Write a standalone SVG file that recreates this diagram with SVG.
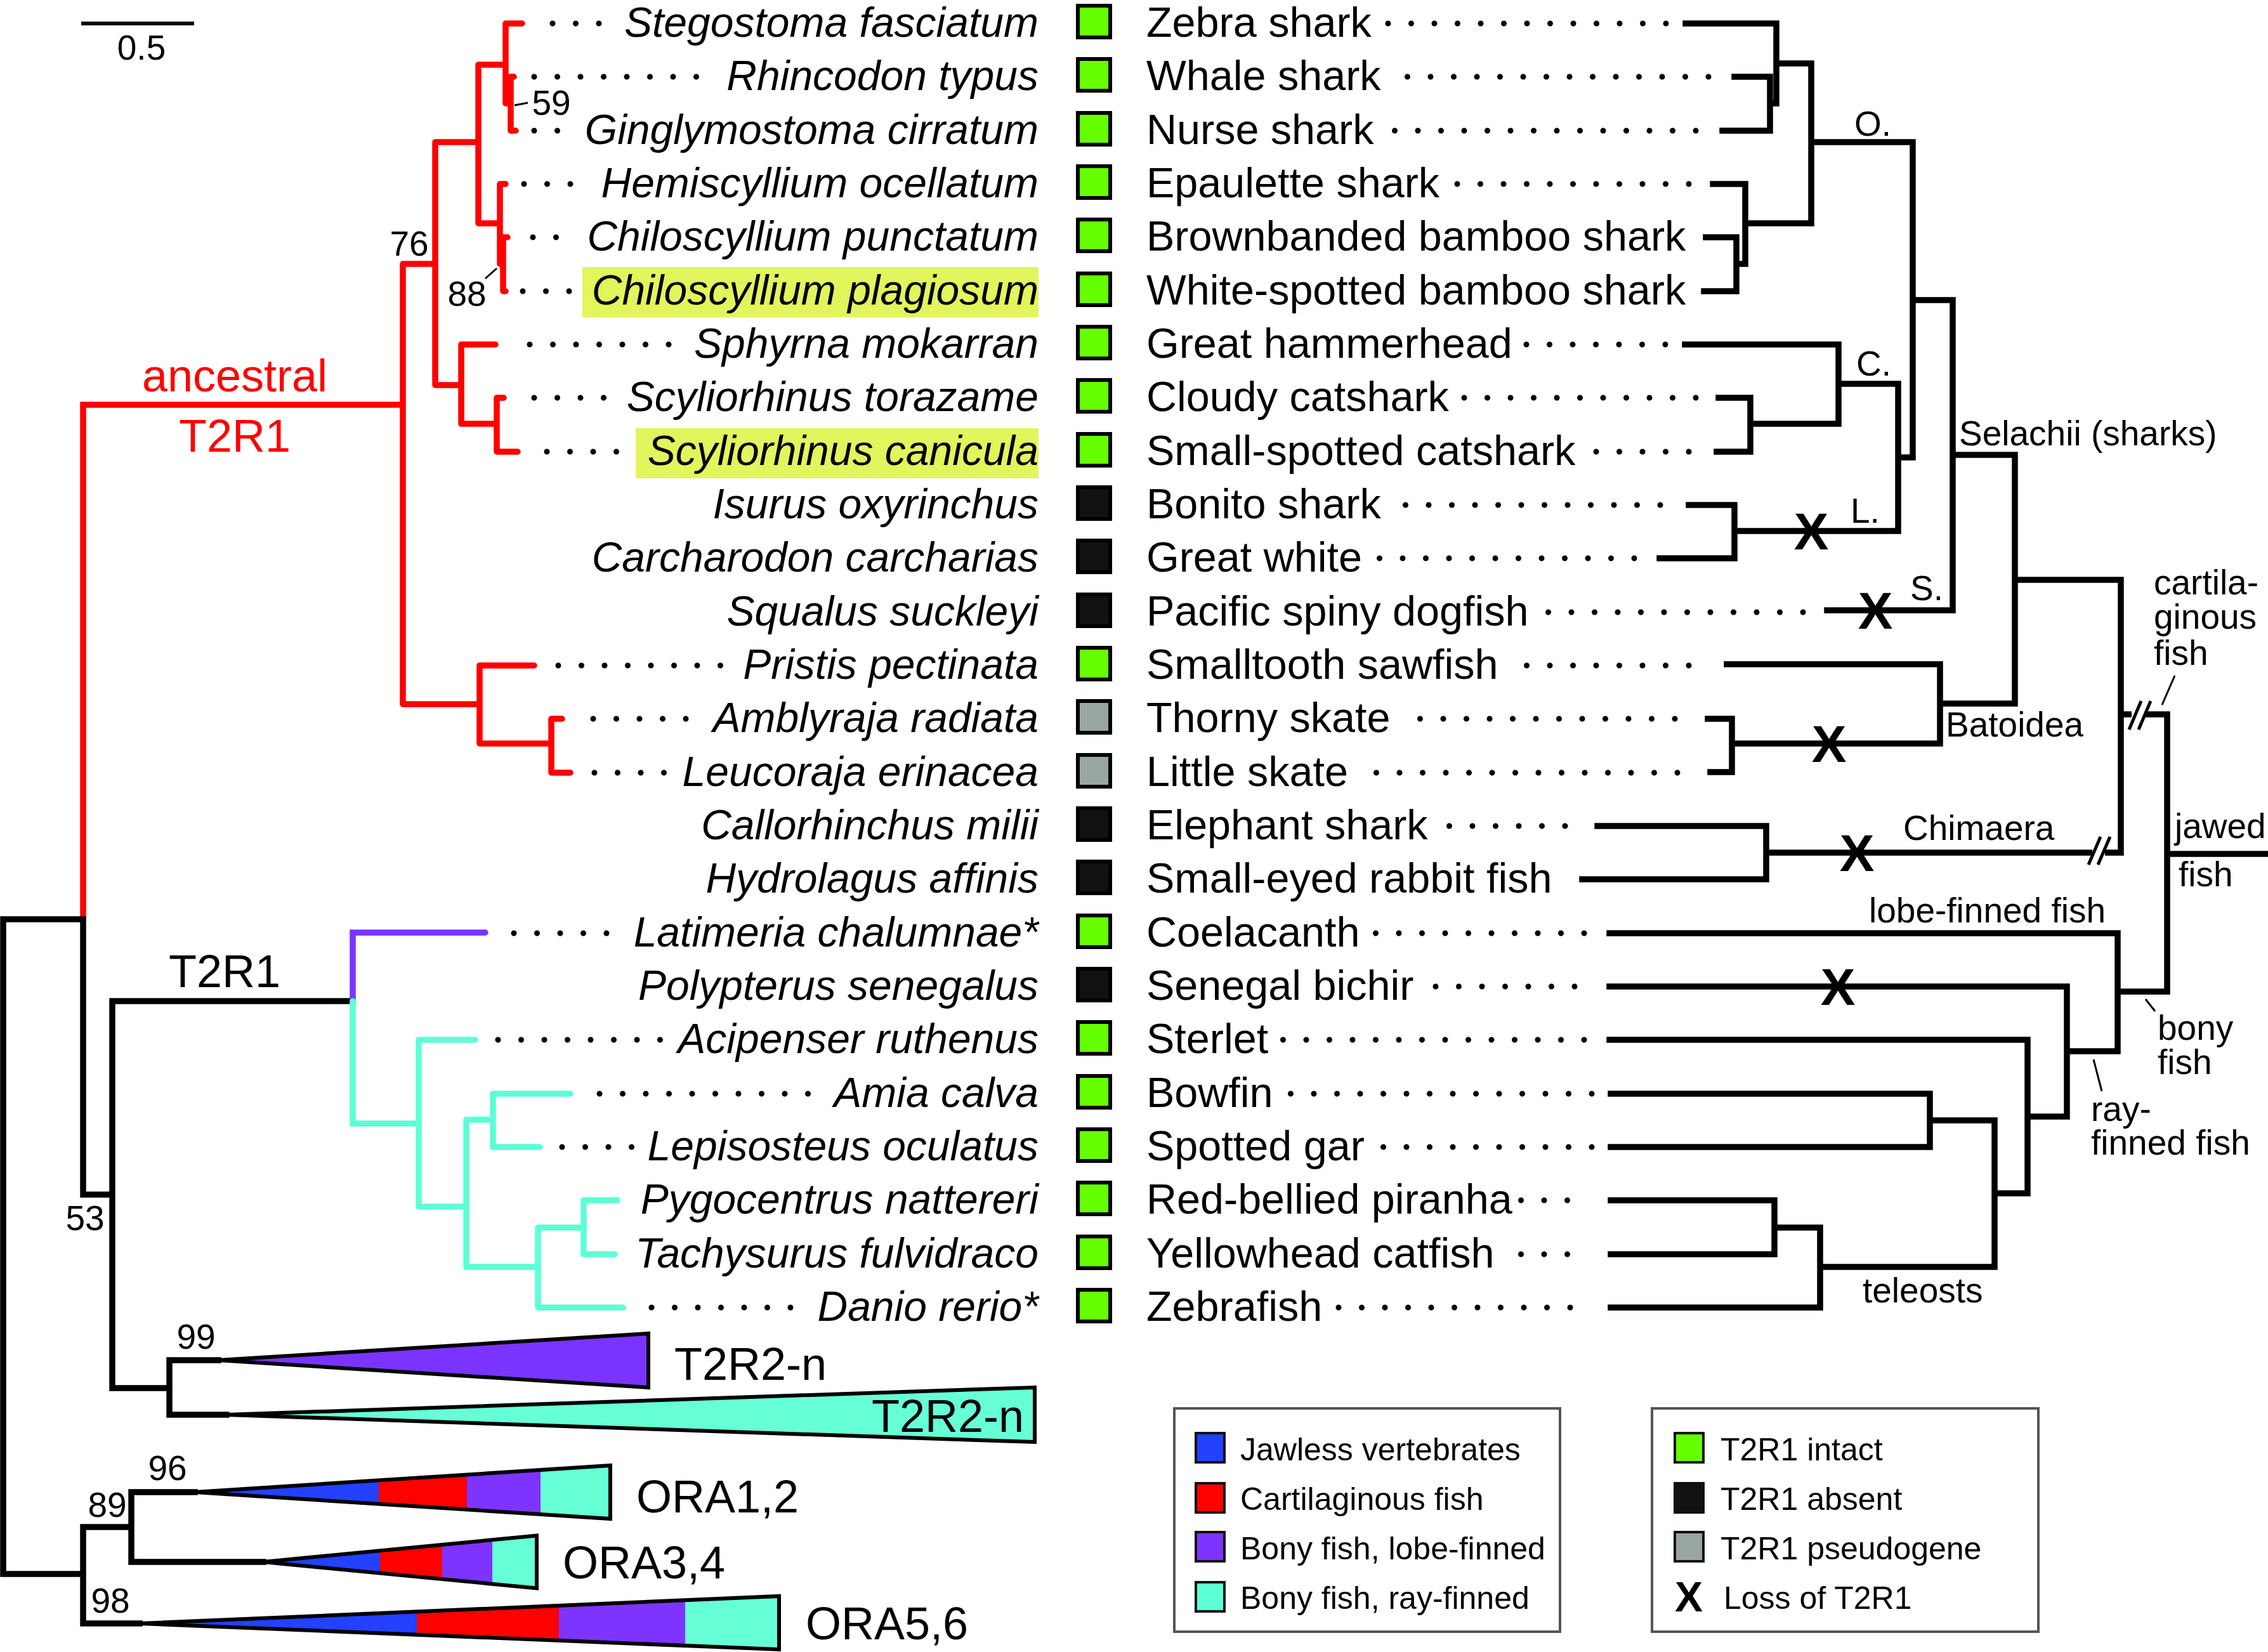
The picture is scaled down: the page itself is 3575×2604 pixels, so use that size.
<svg xmlns="http://www.w3.org/2000/svg" width="3575" height="2604" viewBox="0 0 3575 2604">
<style>
text{font-family:"Liberation Sans",Arial,sans-serif;fill:#000}
.sp{font-size:66px;font-style:italic;text-anchor:end}
.cn{font-size:66.5px}
.lb{font-size:55px}
.bs{font-size:55px;text-anchor:middle}
.big{font-size:72px}
.lg{font-size:50px}
.xm{font-size:82px;font-weight:bold;text-anchor:middle}
.red{fill:#ff0000}
.t{fill:none;stroke-width:9.5}
.tr{stroke:#ff0000;stroke-linecap:round}
.tp{stroke:#7b33ff;stroke-linecap:round}
.tc{stroke:#5cffd6;stroke-linecap:round}
.tk{stroke:#000;stroke-linecap:square}
.dot{fill:none;stroke:#000;stroke-width:9;stroke-linecap:round;stroke-dasharray:0 36.5}
.thin{fill:none;stroke:#000;stroke-width:3}
.box{stroke:#000;stroke-width:6}
.g{fill:#66ff00}
.k{fill:#111}
.p{fill:#99a6a3}
.hl{fill:#e2f55c}
.tri{fill:none;stroke:#000;stroke-width:6;stroke-linejoin:miter}
.lgbox{fill:#fff;stroke:#555;stroke-width:4}
.sw{stroke:#111;stroke-width:4}
</style>

<!-- scale bar -->
<g id="scale">
<path d="M128,37 H306" stroke="#000" stroke-width="6"/>
<text x="223" y="94" class="bs">0.5</text>
</g>

<!-- highlights -->
<rect class="hl" x="918" y="421" width="719" height="79"/>
<rect class="hl" x="1002" y="675" width="635" height="79"/>

<!-- taxa rows -->
<g id="taxon-1"><text class="sp" x="1637" y="58">Stegostoma fasciatum</text><rect class="box g" x="1699" y="9" width="51" height="50"/><text class="cn" x="1807" y="58">Zebra shark</text></g>
<g id="taxon-2"><text class="sp" x="1637" y="142">Rhincodon typus</text><rect class="box g" x="1699" y="93" width="51" height="50"/><text class="cn" x="1807" y="142">Whale shark</text></g>
<g id="taxon-3"><text class="sp" x="1637" y="227">Ginglymostoma cirratum</text><rect class="box g" x="1699" y="178" width="51" height="50"/><text class="cn" x="1807" y="227">Nurse shark</text></g>
<g id="taxon-4"><text class="sp" x="1637" y="311">Hemiscyllium ocellatum</text><rect class="box g" x="1699" y="262" width="51" height="50"/><text class="cn" x="1807" y="311">Epaulette shark</text></g>
<g id="taxon-5"><text class="sp" x="1637" y="395">Chiloscyllium punctatum</text><rect class="box g" x="1699" y="346" width="51" height="50"/><text class="cn" x="1807" y="395">Brownbanded bamboo shark</text></g>
<g id="taxon-6"><text class="sp" x="1637" y="480">Chiloscyllium plagiosum</text><rect class="box g" x="1699" y="431" width="51" height="50"/><text class="cn" x="1807" y="480">White-spotted bamboo shark</text></g>
<g id="taxon-7"><text class="sp" x="1637" y="564">Sphyrna mokarran</text><rect class="box g" x="1699" y="515" width="51" height="50"/><text class="cn" x="1807" y="564">Great hammerhead</text></g>
<g id="taxon-8"><text class="sp" x="1637" y="648">Scyliorhinus torazame</text><rect class="box g" x="1699" y="599" width="51" height="50"/><text class="cn" x="1807" y="648">Cloudy catshark</text></g>
<g id="taxon-9"><text class="sp" x="1637" y="733">Scyliorhinus canicula</text><rect class="box g" x="1699" y="684" width="51" height="50"/><text class="cn" x="1807" y="733">Small-spotted catshark</text></g>
<g id="taxon-10"><text class="sp" x="1637" y="817">Isurus oxyrinchus</text><rect class="box k" x="1699" y="768" width="51" height="50"/><text class="cn" x="1807" y="817">Bonito shark</text></g>
<g id="taxon-11"><text class="sp" x="1637" y="901">Carcharodon carcharias</text><rect class="box k" x="1699" y="852" width="51" height="50"/><text class="cn" x="1807" y="901">Great white</text></g>
<g id="taxon-12"><text class="sp" x="1637" y="986">Squalus suckleyi</text><rect class="box k" x="1699" y="937" width="51" height="50"/><text class="cn" x="1807" y="986">Pacific spiny dogfish</text></g>
<g id="taxon-13"><text class="sp" x="1637" y="1070">Pristis pectinata</text><rect class="box g" x="1699" y="1021" width="51" height="50"/><text class="cn" x="1807" y="1070">Smalltooth sawfish</text></g>
<g id="taxon-14"><text class="sp" x="1637" y="1154">Amblyraja radiata</text><rect class="box p" x="1699" y="1105" width="51" height="50"/><text class="cn" x="1807" y="1154">Thorny skate</text></g>
<g id="taxon-15"><text class="sp" x="1637" y="1239">Leucoraja erinacea</text><rect class="box p" x="1699" y="1190" width="51" height="50"/><text class="cn" x="1807" y="1239">Little skate</text></g>
<g id="taxon-16"><text class="sp" x="1637" y="1323">Callorhinchus milii</text><rect class="box k" x="1699" y="1274" width="51" height="50"/><text class="cn" x="1807" y="1323">Elephant shark</text></g>
<g id="taxon-17"><text class="sp" x="1637" y="1407">Hydrolagus affinis</text><rect class="box k" x="1699" y="1358" width="51" height="50"/><text class="cn" x="1807" y="1407">Small-eyed rabbit fish</text></g>
<g id="taxon-18"><text class="sp" x="1637" y="1492">Latimeria chalumnae*</text><rect class="box g" x="1699" y="1443" width="51" height="50"/><text class="cn" x="1807" y="1492">Coelacanth</text></g>
<g id="taxon-19"><text class="sp" x="1637" y="1576">Polypterus senegalus</text><rect class="box k" x="1699" y="1527" width="51" height="50"/><text class="cn" x="1807" y="1576">Senegal bichir</text></g>
<g id="taxon-20"><text class="sp" x="1637" y="1660">Acipenser ruthenus</text><rect class="box g" x="1699" y="1611" width="51" height="50"/><text class="cn" x="1807" y="1660">Sterlet</text></g>
<g id="taxon-21"><text class="sp" x="1637" y="1745">Amia calva</text><rect class="box g" x="1699" y="1696" width="51" height="50"/><text class="cn" x="1807" y="1745">Bowfin</text></g>
<g id="taxon-22"><text class="sp" x="1637" y="1829">Lepisosteus oculatus</text><rect class="box g" x="1699" y="1780" width="51" height="50"/><text class="cn" x="1807" y="1829">Spotted gar</text></g>
<g id="taxon-23"><text class="sp" x="1637" y="1913">Pygocentrus nattereri</text><rect class="box g" x="1699" y="1864" width="51" height="50"/><text class="cn" x="1807" y="1913">Red-bellied piranha</text></g>
<g id="taxon-24"><text class="sp" x="1637" y="1998">Tachysurus fulvidraco</text><rect class="box g" x="1699" y="1949" width="51" height="50"/><text class="cn" x="1807" y="1998">Yellowhead catfish</text></g>
<g id="taxon-25"><text class="sp" x="1637" y="2082">Danio rerio*</text><rect class="box g" x="1699" y="2033" width="51" height="50"/><text class="cn" x="1807" y="2082">Zebrafish</text></g>

<!-- collapsed clades -->
<g id="clade-t2r2-lobe">
<polygon points="344,2144 1022,2102 1022,2187" fill="#7b33ff"/>
<polygon class="tri" points="344,2144 1022,2102 1022,2187"/>
<text class="big" x="1063" y="2175">T2R2-n</text>
</g>
<g id="clade-t2r2-ray">
<polygon points="357,2230 1631,2187 1631,2273" fill="#66ffd6"/>
<polygon class="tri" points="357,2230 1631,2187 1631,2273"/>
<text class="big" x="1614" y="2257" text-anchor="end">T2R2-n</text>
</g>
<g id="clade-ora12">
<polygon points="307,2352 597,2333.4 597,2370.6" fill="#2341ff"/>
<polygon points="597,2333.4 736,2324.5 736,2379.5 597,2370.6" fill="#ff0000"/>
<polygon points="736,2324.5 852,2317.1 852,2386.9 736,2379.5" fill="#7f33ff"/>
<polygon points="852,2317.1 962,2310 962,2394 852,2386.9" fill="#66ffd6"/>
<polygon class="tri" points="307,2352 962,2310 962,2394"/>
<text class="big" x="1003" y="2384">ORA1,2</text>
</g>
<g id="clade-ora34">
<polygon points="415,2462 599,2444.3 599,2479.7" fill="#2341ff"/>
<polygon points="599,2444.3 697,2434.8 697,2489.2 599,2479.7" fill="#ff0000"/>
<polygon points="697,2434.8 776,2427.2 776,2496.8 697,2489.2" fill="#7f33ff"/>
<polygon points="776,2427.2 846,2420.5 846,2503.5 776,2496.8" fill="#66ffd6"/>
<polygon class="tri" points="415,2462 846,2420.5 846,2503.5"/>
<text class="big" x="887" y="2488">ORA3,4</text>
</g>
<g id="clade-ora56">
<polygon points="220,2559 657,2540.4 657,2577.6" fill="#2341ff"/>
<polygon points="657,2540.4 881,2530.8 881,2587.2 657,2577.6" fill="#ff0000"/>
<polygon points="881,2530.8 1080,2522.3 1080,2595.7 881,2587.2" fill="#7f33ff"/>
<polygon points="1080,2522.3 1228,2516 1228,2600 1080,2595.7" fill="#66ffd6"/>
<polygon class="tri" points="220,2559 1228,2516 1228,2600"/>
<text class="big" x="1270" y="2584">ORA5,6</text>
</g>

<!-- connectors -->
<g id="connectors">
<path class="t tr" d="M131,1449 V638 H635 M635,416 V1110 M635,416 H686 M635,1110 H756 M686,224 V607 M686,224 H754 M686,607 H727 M754,102 V352 M754,102 H797 M754,352 H788 M797,37 V163 M797,37 H823 M797,163 H805 M805,121 V206 M805,121 H810 M805,206 H813 M788,290 V416 M788,290 H797 M788,416 H793 M793,374 V459 M793,374 H800 M793,459 H797 M727,543 V668 M727,543 H781 M727,668 H783 M783,627 V712 M783,627 H794 M783,712 H816 M756,1049 V1172 M756,1049 H842 M756,1172 H869 M869,1133 V1218 M869,1133 H886 M869,1218 H899"/>
<path class="t tk" d="M5,1449 V2481 M5,1449 H131 M5,2481 H131 M131,1449 V1883 H177 M177,1578 V2188 M177,1578 H555 M177,2188 H267 M267,2144 V2230 M267,2144 H344 M267,2230 H357 M131,2407 V2559 M131,2407 H207 M131,2559 H220 M207,2352 V2462 M207,2352 H307 M207,2462 H415"/>
<path class="t tp" d="M556,1578 V1470 H765"/>
<path class="t tc" d="M556,1578 V1771 H660 M660,1639 V1902 M660,1639 H749 M660,1902 H735 M735,1765 V1997 M735,1765 H777 M777,1724 V1808 M777,1724 H899 M777,1808 H851 M735,1997 H848 M848,1935 V2061 M848,1935 H920 M920,1892 V1977 M920,1892 H973 M920,1977 H969 M848,2061 H982"/>
<path class="thin" d="M811,166 L832,162 M765,439 L783,423"/>

<!-- left dotted leaders -->
<path class="dot" d="M871,37 H945 M842,121 H1098.5 M842,206 H879.5 M826,290 H900 M840,374 H877.5 M824,459 H898 M835,543 H1055 M842,627 H952.5 M862,712 H972.5 M880,1049 H1136.5 M935,1133 H1082 M937,1218 H1047.5 M810,1471 H957 M785,1639 H1041.5 M945,1724 H1274.5 M886,1808 H996.5 M1027,2061 H1247"/>

<!-- right dotted leaders -->
<path class="dot" d="M2188,37 H2627 M2218.5,121 H2694 M2198.5,206 H2674 M2297,290 H2663 M2406,543 H2626 M2308,627 H2674 M2516,712 H2663 M2215.5,796 H2618 M2174.5,880 H2577 M2440.5,965 H2843 M2406.5,1049 H2663 M2238.5,1133 H2641 M2169.5,1218 H2645 M2284.5,1302 H2468 M2168.5,1471 H2498 M2263,1555 H2483 M2022.5,1639 H2498 M2034.5,1724 H2510 M2180.5,1808 H2510 M2397.5,1892 H2472 M2397.5,1977 H2472 M2110,2061 H2476"/>

<!-- right species tree -->
<path class="t tk" d="M2657,37 H2800 M2734,121 H2790 M2715,206 H2790 M2790,121 V206 M2790,163 H2800 M2800,37 V163 M2800,100 H2855 M2700,290 H2751 M2689,374 H2737 M2686,459 H2737 M2737,374 V459 M2737,416 H2751 M2751,290 V416 M2751,352 H2855 M2855,100 V352 M2855,224 H3015 M2656,543 H2898 M2709,627 H2759 M2706,712 H2759 M2759,627 V712 M2759,668 H2898 M2898,543 V668 M2898,605 H2992 M2662,796 H2734 M2616,880 H2734 M2734,796 V880 M2734,837 H2992 M2992,605 V837 M2992,721 H3015 M3015,224 V721 M3015,473 H3078 M2880,962 H3078 M3078,473 V962 M3078,717 H3176 M2722,1047 H3058 M2692,1133 H2730 M2696,1217 H2730 M2730,1133 V1217 M2730,1172 H3058 M3058,1047 V1172 M3058,1109 H3176 M3176,717 V1109 M3176,914 H3343 M2518,1302 H2784 M2494,1386 H2784 M2784,1302 V1386 M2784,1344 H3343 M3343,914 V1344 M3343,1126 H3416 M3416,1126 V1563 M3416,1346 H3575 M2537,1471 H3338 M2537,1555 H3258 M2537,1639 H3196 M2539,1724 H3042 M2539,1808 H3042 M3042,1724 V1808 M3042,1766 H3144 M2539,1892 H2797 M2539,1977 H2797 M2797,1892 V1977 M2797,1935 H2869 M2539,2061 H2869 M2869,1935 V2061 M2869,1997 H3144 M3144,1766 V1997 M3144,1881 H3196 M3196,1639 V1881 M3196,1760 H3258 M3258,1555 V1760 M3258,1657 H3338 M3338,1471 V1657 M3338,1563 H3416"/>
<!-- breaks -->
<rect x="3298" y="1335" width="20" height="18" fill="#fff"/>
<path d="M3292,1363 L3311,1319 M3307,1363 L3326,1319" stroke="#000" stroke-width="5" fill="none"/>
<rect x="3360" y="1117" width="20" height="18" fill="#fff"/>
<path d="M3356,1150 L3375,1105 M3371,1150 L3390,1105" stroke="#000" stroke-width="5" fill="none"/>
<path class="thin" d="M3428,1065 L3408,1111 M3382,1575 L3397,1594 M3300,1670 L3313,1720"/>
</g>

<!-- loss marks -->
<g id="losses">
<text class="xm" x="2855" y="866">X</text>
<text class="xm" x="2956" y="991">X</text>
<text class="xm" x="2883" y="1201">X</text>
<text class="xm" x="2927" y="1373">X</text>
<text class="xm" x="2897" y="1584">X</text>
</g>

<!-- labels -->
<g id="labels">
<text class="big red" x="370" y="617" text-anchor="middle" font-size="74">ancestral</text>
<text class="big red" x="370" y="712" text-anchor="middle">T2R1</text>
<text class="big" x="354" y="1556" text-anchor="middle">T2R1</text>
<text class="bs" x="869" y="181">59</text>
<text class="bs" x="645" y="403">76</text>
<text class="bs" x="736" y="482">88</text>
<text class="bs" x="134" y="1939">53</text>
<text class="bs" x="309" y="2126">99</text>
<text class="bs" x="264" y="2333">96</text>
<text class="bs" x="169" y="2391">89</text>
<text class="bs" x="174" y="2542">98</text>
<text class="lb" x="2923" y="214">O.</text>
<text class="lb" x="2926" y="592">C.</text>
<text class="lb" x="2917" y="824">L.</text>
<text class="lb" x="3011" y="946">S.</text>
<text class="lb" x="3088" y="702">Selachii (sharks)</text>
<text class="lb" x="3067" y="1161">Batoidea</text>
<text class="lb" x="3000" y="1324">Chimaera</text>
<text class="lb" x="3395" y="937">cartila-</text>
<text class="lb" x="3395" y="991">ginous</text>
<text class="lb" x="3395" y="1048">fish</text>
<text class="lb" x="3428" y="1321">jawed</text>
<text class="lb" x="3434" y="1397">fish</text>
<text class="lb" x="2946" y="1454">lobe-finned fish</text>
<text class="lb" x="3401" y="1639">bony</text>
<text class="lb" x="3401" y="1693">fish</text>
<text class="lb" x="3296" y="1767">ray-</text>
<text class="lb" x="3296" y="1820">finned fish</text>
<text class="lb" x="2936" y="2053">teleosts</text>
</g>

<!-- legends -->
<g id="legend-groups">
<rect class="lgbox" x="1851" y="2220" width="608" height="352"/>
<rect class="sw" x="1885" y="2259" width="45" height="46" fill="#2341ff"/>
<rect class="sw" x="1885" y="2338" width="45" height="46" fill="#ff0000"/>
<rect class="sw" x="1885" y="2415" width="45" height="46" fill="#7f33ff"/>
<rect class="sw" x="1885" y="2494" width="45" height="46" fill="#5cffd6"/>
<text class="lg" x="1955" y="2302">Jawless vertebrates</text>
<text class="lg" x="1955" y="2380">Cartilaginous fish</text>
<text class="lg" x="1955" y="2458">Bony fish, lobe-finned</text>
<text class="lg" x="1955" y="2536">Bony fish, ray-finned</text>
</g>
<g id="legend-status">
<rect class="lgbox" x="2604" y="2220" width="609" height="352"/>
<rect class="sw" x="2640" y="2259" width="45" height="46" fill="#66ff00"/>
<rect class="sw" x="2640" y="2338" width="45" height="46" fill="#111"/>
<rect class="sw" x="2640" y="2415" width="45" height="46" fill="#99a6a3"/>
<text x="2662" y="2540" font-size="66" font-weight="bold" text-anchor="middle">X</text>
<text class="lg" x="2712" y="2302">T2R1 intact</text>
<text class="lg" x="2712" y="2380">T2R1 absent</text>
<text class="lg" x="2712" y="2458">T2R1 pseudogene</text>
<text class="lg" x="2717" y="2536">Loss of T2R1</text>
</g>
</svg>
